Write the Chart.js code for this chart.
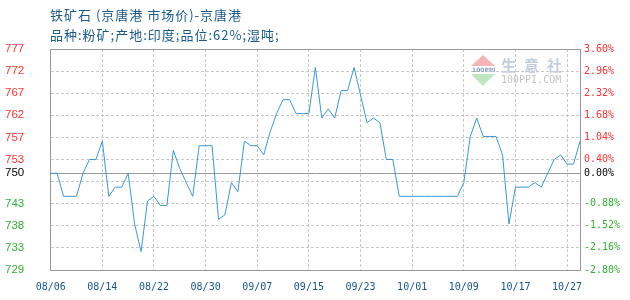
<!DOCTYPE html>
<html>
<head>
<meta charset="utf-8">
<script src="https://cdn.jsdelivr.net/npm/chart.js@4.4.0/dist/chart.umd.min.js"></script>
<style>
  body { margin: 0; background: #fff; }
  #wrap { position: relative; width: 630px; height: 300px; }
  .ttl { position: absolute; left: 50px; font-family: "Noto Sans CJK SC", sans-serif; font-size: 13px; letter-spacing: 1px; color: #1b5a8a; white-space: nowrap; }
</style>
</head>
<body>
<div id="wrap">
  <canvas id="price-chart" width="630" height="300"></canvas>
  <div class="ttl" style="top:5px">铁矿石 (京唐港 市场价)-京唐港</div>
  <div class="ttl" style="top:25px">品种:粉矿;产地:印度;品位:62%;湿吨;</div>
</div>
<script>
// dates, one per point
const dates = [
  '08/06','08/07','08/08','08/09','08/10','08/11','08/12','08/13','08/14','08/15','08/16','08/17','08/18',
  '08/19','08/20','08/21','08/22','08/23','08/24','08/25','08/26','08/27','08/28','08/29','08/30','08/31',
  '09/01','09/02','09/03','09/04','09/05','09/06','09/07','09/08','09/09','09/10','09/11','09/12','09/13',
  '09/14','09/15','09/16','09/17','09/18','09/19','09/20','09/21','09/22','09/23','09/24','09/25','09/26',
  '09/27','09/28','09/29','09/30','10/01','10/02','10/03','10/04','10/05','10/06','10/07','10/08','10/09',
  '10/10','10/11','10/12','10/13','10/14','10/15','10/16','10/17','10/18','10/21','10/22','10/23','10/24',
  '10/25','10/26','10/27','10/28','10/29'
];

// price, yuan/ton
const prices = [
  750, 750, 745, 745, 745, 750, 753, 753, 757, 745, 747, 747, 750, 739, 733, 744, 745, 743, 743, 755,
  751, 748, 745, 756, 756, 756, 740, 741, 748, 746, 757, 756, 756, 754, 759, 763, 766, 766, 763, 763,
  763, 773, 762, 764, 762, 768, 768, 773, 767, 761, 762, 761, 753, 753, 745, 745, 745, 745, 745, 745,
  745, 745, 745, 745, 748, 758, 762, 758, 758, 758, 754, 739, 747, 747, 747, 748, 747, 750, 753, 754,
  752, 752, 757
];

const baseValue = 750;
const yTicks = [729, 733.8, 738.6, 743.4, 748.2, 750, 753, 757.8, 762.6, 767.4, 772.2, 777];
const yLabels = ['729', '733', '738', '743', '', '750', '753', '757', '762', '767', '772', '777'];
const pctLabels = ['-2.80%', '-2.16%', '-1.52%', '-0.88%', '', '0.00%', '0.40%', '1.04%', '1.68%', '2.32%', '2.96%', '3.60%'];
const labelEvery = 8;

const RED = '#ff3333', GREEN = '#33b033', BLACK = '#000';
function tickColor(ctx) {
  const v = ctx.tick.value;
  return v > baseValue ? RED : (v < baseValue ? GREEN : BLACK);
}

// 100ppi watermark in the top right of the plot
const watermark = {
  id: 'watermark',
  beforeDatasetsDraw(chart) {
    const c = chart.ctx;
    c.save();
    c.fillStyle = '#f5b5b5';
    c.beginPath(); c.moveTo(483, 55); c.lineTo(495, 66); c.lineTo(471, 66); c.closePath(); c.fill();
    c.fillStyle = '#bfe6bf';
    c.beginPath(); c.moveTo(471, 74); c.lineTo(495, 74); c.lineTo(483, 86); c.closePath(); c.fill();
    c.fillStyle = '#8aa0c6';
    c.font = 'bold 6px "DejaVu Sans"';
    c.textBaseline = 'middle';
    c.fillText('100PPI', 472, 70.5);
    c.fillStyle = '#c3cde2';
    c.font = 'bold 15px "Noto Sans CJK SC"';
    c.fillText('生', 501, 65); c.fillText('意', 524, 65); c.fillText('社', 547, 65);
    c.fillStyle = '#c4c4c4';
    c.font = '10px "DejaVu Sans Mono"';
    c.fillText('100PPI.COM', 501, 80.5);
    c.restore();
  }
};

new Chart(document.getElementById('price-chart'), {
  type: 'line',
  data: {
    labels: dates,
    datasets: [{
      data: prices,
      borderColor: '#3a98d8',
      borderWidth: 1,
      pointRadius: 0,
      tension: 0,
      yAxisID: 'y'
    }]
  },
  options: {
    responsive: false,
    animation: false,
    layout: { padding: { left: 5, right: 0, top: 49, bottom: 0 } },
    plugins: { legend: { display: false }, tooltip: { enabled: false } },
    scales: {
      x: {
        offset: false,
        afterBuildTicks: s => { s.ticks = s.ticks.filter(t => t.value % labelEvery === 0); },
        afterFit: s => { s.height = 30; },
        ticks: {
          autoSkip: false, maxRotation: 0, padding: 11,
          color: '#17568a',
          font: { family: 'DejaVu Sans Mono', size: 10 },
          callback: function (v) { return this.getLabelForValue(v); }
        },
        grid: {
          drawTicks: false,
          color: ctx => ctx.index === 0 ? 'rgba(0,0,0,0)' : '#c8c8c8'
        },
        border: { color: '#999', dash: [3, 2] }
      },
      y: {
        position: 'left',
        min: 729, max: 777,
        afterBuildTicks: s => { s.ticks = yTicks.map(v => ({ value: v })); },
        afterFit: s => { s.width = 45.7; },
        ticks: {
          crossAlign: 'far', padding: 0,
          color: tickColor,
          font: { family: 'Liberation Sans', size: 11.5 },
          callback: (v, i) => yLabels[i]
        },
        grid: {
          drawTicks: false,
          color: ctx => (ctx.tick && (ctx.tick.value === baseValue || ctx.tick.value === 777)) ? '#999' : '#c8c8c8'
        },
        border: {
          color: '#999',
          dash: ctx => (ctx.tick && (ctx.tick.value === baseValue || ctx.tick.value === 777)) ? [] : [3, 2]
        }
      },
      y1: {
        position: 'right',
        min: 729, max: 777,
        afterBuildTicks: s => { s.ticks = yTicks.map(v => ({ value: v })); },
        afterFit: s => { s.width = 50; },
        ticks: {
          padding: 4,
          color: tickColor,
          font: { family: 'DejaVu Sans Mono', size: 10 },
          callback: (v, i) => pctLabels[i]
        },
        grid: { display: false, drawTicks: false },
        border: { color: '#999' }
      }
    }
  },
  plugins: [watermark]
});
</script>
</body>
</html>
